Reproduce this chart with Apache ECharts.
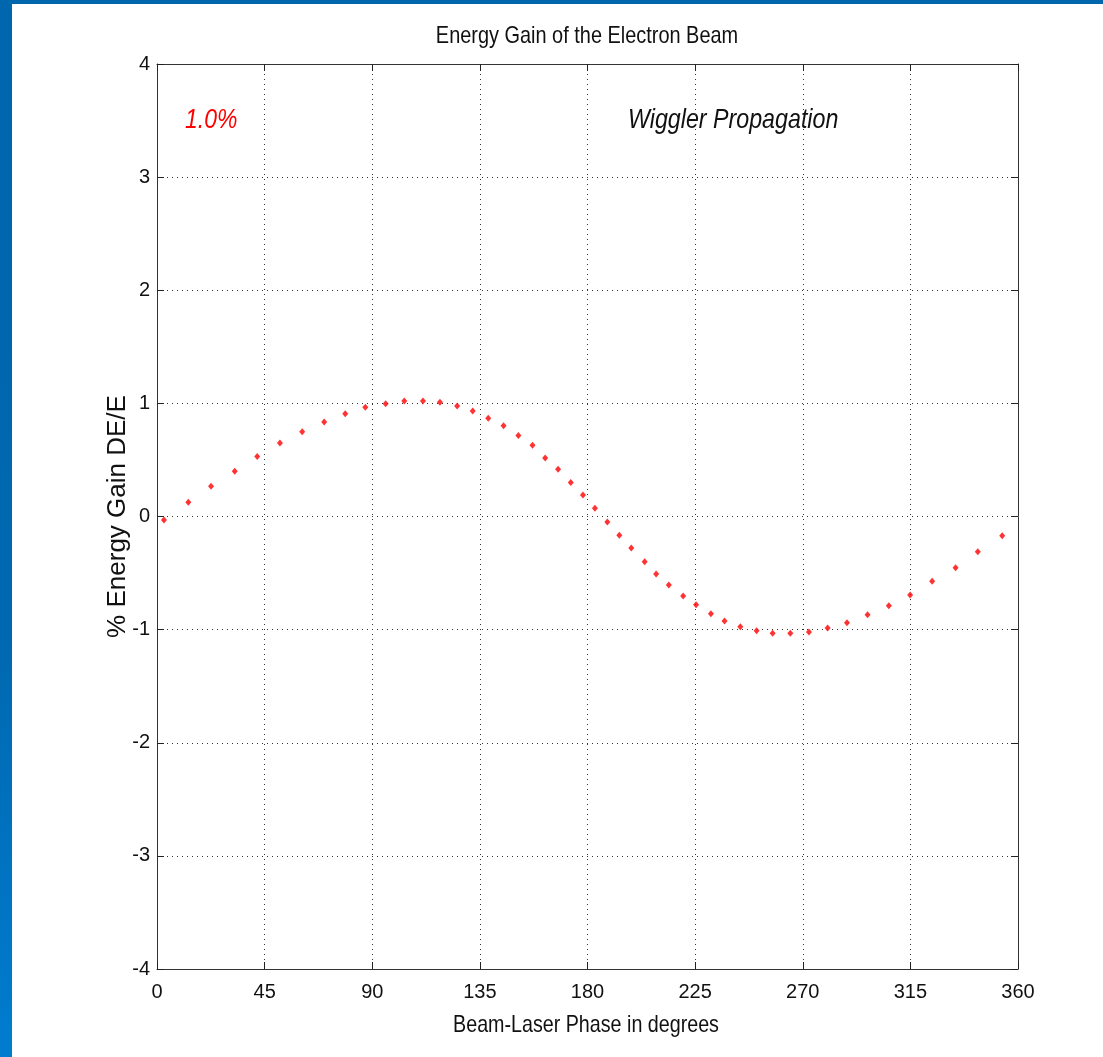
<!DOCTYPE html>
<html>
<head>
<meta charset="utf-8">
<script src="https://cdn.jsdelivr.net/npm/echarts@6/dist/echarts.min.js"></script>
<style>
  html, body { margin: 0; padding: 0; background: #ffffff; }
  #chart { width: 1103px; height: 1057px; }
</style>
</head>
<body>
<div id="chart"></div>
<script>
// Phase (degrees) and energy gain (% DE/E)
const phaseDeg = [2.9, 13.1, 22.6, 32.5, 41.9, 51.4, 60.7, 69.9, 78.7, 87.1,
  95.6, 103.4, 111.2, 118.3, 125.5, 132.0, 138.5, 144.9, 151.1, 157.0,
  162.3, 167.7, 173.0, 178.1, 183.1, 188.3, 193.3, 198.3, 203.9, 208.7,
  214.0, 220.0, 225.4, 231.6, 237.3, 243.9, 250.7, 257.4, 264.8, 272.6,
  280.4, 288.5, 297.1, 306.0, 314.9, 324.1, 333.9, 343.2, 353.4];
const energyGain = [-0.03, 0.125, 0.267, 0.40, 0.53, 0.65, 0.75, 0.835, 0.909, 0.965,
  0.997, 1.02, 1.02, 1.01, 0.977, 0.933, 0.868, 0.803, 0.715, 0.63,
  0.517, 0.417, 0.30, 0.19, 0.072, -0.049, -0.166, -0.279, -0.40, -0.508,
  -0.606, -0.703, -0.78, -0.859, -0.924, -0.974, -1.01, -1.033, -1.033, -1.021,
  -0.986, -0.94, -0.868, -0.79, -0.694, -0.573, -0.452, -0.311, -0.17];

const titleText = 'Energy Gain of the Electron Beam';
const xAxisName = 'Beam-Laser Phase in degrees';
const yAxisName = '% Energy Gain DE/E';
const noteLeft = '1.0%';
const noteRight = 'Wiggler Propagation';
const xRange = [0, 360, 45];
const yRange = [-4, 4, 1];

const sans = "'Liberation Sans', Arial, sans-serif";

const G = { left: 157, top: 64, right: 85, bottom: 88 };

const chart = echarts.init(document.getElementById('chart'), null, { renderer: 'canvas' });

const gridDots = { show: true, lineStyle: { color: '#333333', type: [1, 4], width: 1 } };
const axisLine = { show: true, onZero: false, lineStyle: { color: '#333333', width: 1 } };
const tickIn = { show: true, inside: true, length: 7, lineStyle: { color: '#222222', width: 1 } };

chart.setOption({
  backgroundColor: '#ffffff',
  animation: false,
  grid: { left: G.left, top: G.top, right: G.right, bottom: G.bottom, containLabel: false },
  xAxis: [{
    type: 'value', position: 'bottom', min: xRange[0], max: xRange[1], interval: xRange[2],
    axisLine: axisLine, axisTick: tickIn, splitLine: gridDots,
    axisLabel: { margin: 13, fontFamily: sans, fontSize: 20, color: '#111111' }
  }, {
    type: 'value', position: 'top', min: xRange[0], max: xRange[1], interval: xRange[2],
    axisLine: axisLine, axisTick: tickIn, splitLine: { show: false },
    axisLabel: { show: false }
  }],
  yAxis: [{
    type: 'value', position: 'left', min: yRange[0], max: yRange[1], interval: yRange[2],
    axisLine: axisLine, axisTick: tickIn, splitLine: gridDots,
    axisLabel: { margin: 7, fontFamily: sans, fontSize: 20, color: '#111111' },
    name: yAxisName, nameLocation: 'middle', nameGap: 26, nameRotate: 90, nameMoveOverlap: false,
    nameTextStyle: { fontFamily: sans, fontSize: 26, color: '#111111' }
  }, {
    type: 'value', position: 'right', min: yRange[0], max: yRange[1], interval: yRange[2],
    axisLine: axisLine, axisTick: tickIn, splitLine: { show: false },
    axisLabel: { show: false }
  }],
  series: [{
    type: 'scatter',
    xAxisIndex: 0, yAxisIndex: 0,
    symbol: 'diamond', symbolSize: [6, 7],
    itemStyle: { color: '#ff0000' },
    data: phaseDeg.map((x, i) => [x, energyGain[i]])
  }],
  graphic: [
    { type: 'rect', left: 0, top: 0, shape: { width: 1103, height: 4 }, style: { fill: '#0066ad' }, z: 10 },
    { type: 'rect', left: 0, top: 0, shape: { width: 12, height: 1057 },
      style: { fill: new echarts.graphic.LinearGradient(0, 0, 0, 1, [
        { offset: 0, color: '#0066ad' }, { offset: 0.6, color: '#0068b0' }, { offset: 1, color: '#007ccf' }]) }, z: 10 },
    { type: 'text', x: 587, y: 36, scaleX: 0.83,
      style: { text: titleText, fontFamily: sans, fontSize: 24, fill: '#111111', align: 'center', verticalAlign: 'middle' } },
    { type: 'text', x: 586, y: 1025, scaleX: 0.82,
      style: { text: xAxisName, fontFamily: sans, fontSize: 24, fill: '#111111', align: 'center', verticalAlign: 'middle' } },
    { type: 'text', x: 185, y: 120, scaleX: 0.82,
      style: { text: noteLeft, fontFamily: sans, fontSize: 28, fontStyle: 'italic', fill: '#ff0000', align: 'left', verticalAlign: 'middle' } },
    { type: 'text', x: 628, y: 120, scaleX: 0.83,
      style: { text: noteRight, fontFamily: sans, fontSize: 28, fontStyle: 'italic', fill: '#111111', align: 'left', verticalAlign: 'middle' } }
  ]
});
</script>
</body>
</html>
